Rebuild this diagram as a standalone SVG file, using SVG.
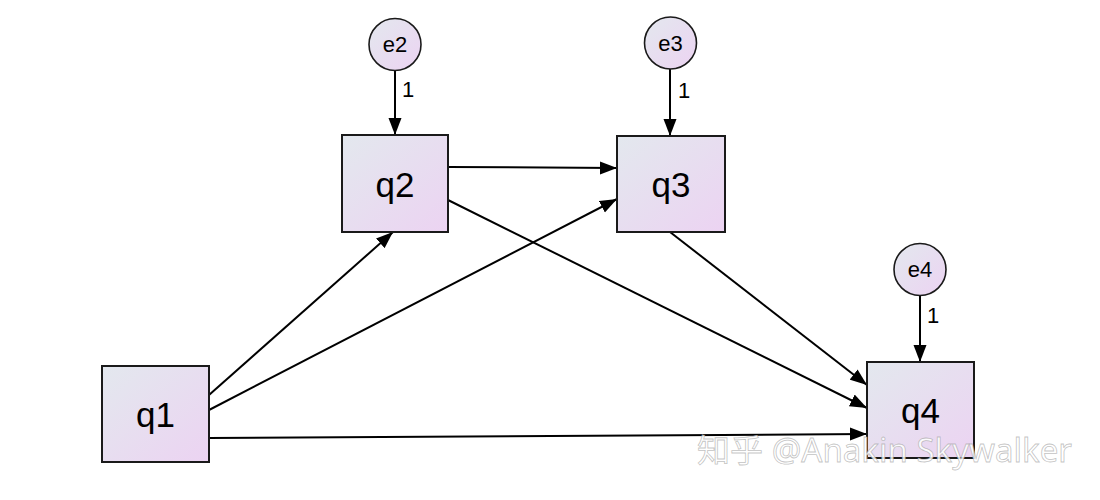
<svg xmlns="http://www.w3.org/2000/svg" width="1100" height="500" viewBox="0 0 1100 500">
<defs>
<linearGradient id="g" x1="0" y1="0" x2="1" y2="1">
<stop offset="0" stop-color="#e3e8ee"/>
<stop offset="1" stop-color="#ecd3f2"/>
</linearGradient>
<marker id="a" markerUnits="userSpaceOnUse" markerWidth="18" markerHeight="14" refX="17" refY="7" orient="auto">
<path d="M0,0.5 L17,7 L0,13.5 Z" fill="#000"/>
</marker>
</defs>
<style>
.box{fill:url(#g);stroke:#1a1a1a;stroke-width:2}
.err{fill:url(#g);stroke:#1a1a1a;stroke-width:1.6}
.lbl{font-family:"Liberation Sans",Arial,sans-serif;font-size:35px;fill:#000;text-anchor:middle;dominant-baseline:central}
.elbl{font-family:"Liberation Sans",Arial,sans-serif;font-size:22px;fill:#000;text-anchor:middle;dominant-baseline:central}
.w{font-family:"Liberation Sans",Arial,sans-serif;font-size:22px;fill:#000}
.c line{stroke:#000;stroke-width:2;marker-end:url(#a)}
.wm{font-family:"Noto Sans","Liberation Sans","Noto Sans CJK SC",sans-serif;font-size:32px;fill:#fff;fill-opacity:0.85;stroke:#9a9a9a;stroke-opacity:0.6;stroke-width:0.8}
</style>
<rect width="1100" height="500" fill="#fff"/>
<g class="c" id="connectors">
<line x1="395" y1="70" x2="395" y2="135"/>
<line x1="670" y1="69" x2="670" y2="136"/>
<line x1="920" y1="296" x2="920" y2="362"/>
<line x1="209" y1="395" x2="393" y2="232"/>
<line x1="209" y1="410" x2="617" y2="199"/>
<line x1="448" y1="167" x2="617" y2="168"/>
<line x1="448" y1="200" x2="867" y2="408"/>
<line x1="670" y1="232" x2="867" y2="385"/>
<line x1="209" y1="438" x2="867" y2="434"/>
</g>
<g id="w2"><text class="w" x="402" y="97">1</text></g>
<g id="w3"><text class="w" x="678" y="98">1</text></g>
<g id="w4"><text class="w" x="927" y="323">1</text></g>
<g id="e2"><circle class="err" cx="395" cy="44.5" r="26"/><text class="elbl" x="395" y="44.5">e2</text></g>
<g id="e3"><circle class="err" cx="670.5" cy="43" r="26"/><text class="elbl" x="670.5" y="43">e3</text></g>
<g id="e4"><circle class="err" cx="920" cy="269.5" r="26"/><text class="elbl" x="920" y="269.5">e4</text></g>
<g id="q1"><rect class="box" x="102" y="366" width="107" height="96"/><text class="lbl" x="155.5" y="414">q1</text></g>
<g id="q2"><rect class="box" x="342" y="135" width="106" height="97"/><text class="lbl" x="395" y="184">q2</text></g>
<g id="q3"><rect class="box" x="617" y="136" width="108" height="96"/><text class="lbl" x="671" y="184">q3</text></g>
<g id="q4"><rect class="box" x="867" y="362" width="107" height="96"/><text class="lbl" x="920.5" y="410">q4</text></g>
<text class="wm" x="697" y="462" textLength="375" lengthAdjust="spacingAndGlyphs">知乎 @Anakin Skywalker</text>
</svg>
